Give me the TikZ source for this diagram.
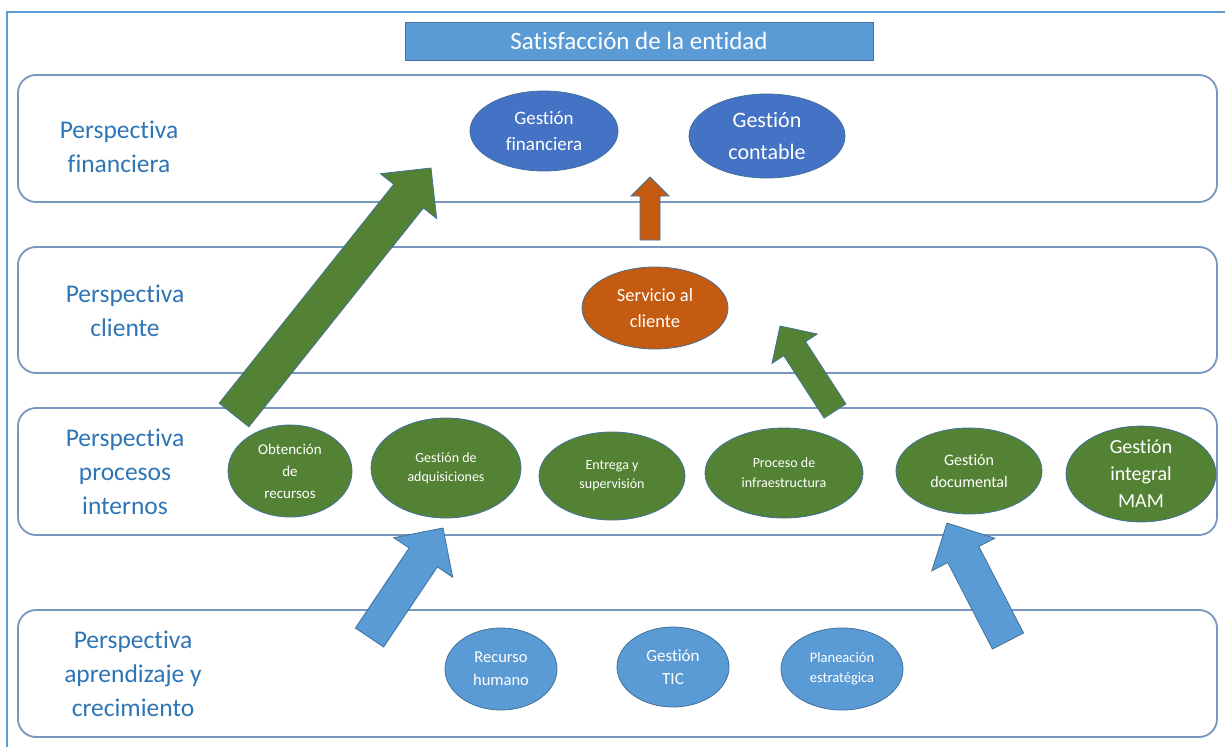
\documentclass[tikz,border=0pt]{standalone}
\usepackage{fontspec}
\setmainfont{Carlito}[Ligatures={NoCommon}]
\usetikzlibrary{shapes.geometric,calc}
\definecolor{labblue}{RGB}{46,117,182}
\definecolor{lightblue}{RGB}{91,155,213}
\definecolor{darkblue}{RGB}{68,114,196}
\definecolor{orng}{RGB}{197,90,17}
\definecolor{grn}{RGB}{84,130,53}
\definecolor{edge}{RGB}{65,113,156}
\definecolor{rowedge}{RGB}{120,150,190}
\newcommand\BlkArrow[5]{%
  \coordinate (bah) at ($(#3)!#5!(#2)$);
  \filldraw[#1] ($(#2)!#4!90:(#3)$) -- ($(bah)!#4!90:(#3)$) -- ($(bah)!#5!90:(#3)$) -- (#3)
    -- ($(bah)!#5!-90:(#3)$) -- ($(bah)!#4!-90:(#3)$) -- ($(#2)!#4!-90:(#3)$) -- cycle;
}
\begin{document}
\begin{tikzpicture}[x=1pt,y=-1pt,
  frame/.style={draw=lightblue,line width=2.5pt},
  titlebox/.style={draw=edge,fill=lightblue,line width=0.8pt,text=white,font=\fontsize{25}{30}\selectfont,inner sep=0pt},
  rowbox/.style={draw=rowedge,line width=1.8pt,fill=white,rounded corners=18pt,inner sep=0pt},
  lab/.style={text=labblue,align=center,font=\fontsize{25.5}{34}\selectfont,inner sep=0pt},
  ell/.style={ellipse,draw=edge,line width=0.8pt,text=white,align=center,inner sep=0pt},
  arr/.style={draw=edge,line width=0.8pt,line join=miter}]
\useasboundingbox (0,0) rectangle (1225,747);
\draw[frame] (7,747) -- (7,12) -- (1225,12);
\node[titlebox,minimum width=468pt,minimum height=38pt] (title) at (639,41) {Satisfacción de la entidad};
% rows
\node[rowbox,minimum width=1199pt,minimum height=127pt] (r1) at (617.5,138.5) {};
\node[rowbox,minimum width=1199pt,minimum height=126pt] (r2) at (617.5,310) {};
\node[rowbox,minimum width=1199pt,minimum height=127pt] (r3) at (617.5,471.5) {};
\node[rowbox,minimum width=1199pt,minimum height=127pt] (r4) at (617.5,673.5) {};
% labels
\node[lab] (l1) at (119,147) {Perspectiva\\financiera};
\node[lab] (l2) at (125,311) {Perspectiva\\cliente};
\node[lab] (l3) at (125,472) {Perspectiva\\procesos\\internos};
\node[lab] (l4) at (133,674) {Perspectiva\\aprendizaje y\\crecimiento};
% arrows
\coordinate (ga1) at (234,415);  \coordinate (gb1) at (431,168);
\coordinate (ga2) at (835,411);  \coordinate (gb2) at (780,326);
\coordinate (oa) at (650,240);   \coordinate (ob) at (650,177);
\coordinate (ba1) at (369.5,637.5); \coordinate (bb1) at (443,528);
\coordinate (ba2) at (1008,641); \coordinate (bb2) at (947,523);
\BlkArrow{arr,fill=grn}{ga1}{gb1}{19pt}{36pt}
\BlkArrow{arr,fill=grn}{ga2}{gb2}{13pt}{27pt}
\BlkArrow{arr,fill=orng}{oa}{ob}{10pt}{19pt}
\BlkArrow{arr,fill=lightblue}{ba1}{bb1}{17pt}{35.5pt}
\BlkArrow{arr,fill=lightblue}{ba2}{bb2}{17.5pt}{35.5pt}
% row 1
\node[ell,fill=darkblue,minimum width=148pt,minimum height=80pt,font=\fontsize{19}{26}\selectfont] (gf) at (544,131) {Gestión\\financiera};
\node[ell,fill=darkblue,minimum width=156pt,minimum height=84pt,font=\fontsize{22}{32}\selectfont] (gc) at (767,136) {Gestión\\contable};
% row 2
\node[ell,fill=orng,minimum width=146pt,minimum height=82pt,font=\fontsize{18.5}{26}\selectfont] (sc) at (655,308) {Servicio al\\cliente};
% row 3
\node[ell,fill=grn,minimum width=124pt,minimum height=92pt,font=\fontsize{15}{22}\selectfont] (or) at (290,471) {Obtención\\de\\recursos};
\node[ell,fill=grn,minimum width=150pt,minimum height=100pt,font=\fontsize{14}{19}\selectfont] (ga) at (446,468) {Gestión de\\adquisiciones};
\node[ell,fill=grn,minimum width=146pt,minimum height=88pt,font=\fontsize{14}{19}\selectfont] (es) at (612,476) {Entrega y\\supervisión};
\node[ell,fill=grn,minimum width=158pt,minimum height=90pt,font=\fontsize{14}{20}\selectfont] (pi) at (784,473) {Proceso de\\infraestructura};
\node[ell,fill=grn,minimum width=146pt,minimum height=86pt,font=\fontsize{16}{22}\selectfont] (gd) at (969,471) {Gestión\\documental};
\node[ell,fill=grn,minimum width=150pt,minimum height=88pt,font=\fontsize{20}{27}\selectfont] (gi) at (1141,474) {Gestión\\integral\\MAM};
% row 4
\node[ell,fill=lightblue,minimum width=112pt,minimum height=82pt,font=\fontsize{16.5}{23}\selectfont] (rh) at (501,669) {Recurso\\humano};
\node[ell,fill=lightblue,minimum width=112pt,minimum height=80pt,font=\fontsize{17}{23}\selectfont] (gt) at (673,667) {Gestión\\TIC};
\node[ell,fill=lightblue,minimum width=122pt,minimum height=82pt,font=\fontsize{14.5}{20}\selectfont] (pe) at (842,669) {Planeación\\estratégica};
\end{tikzpicture}
\end{document}
